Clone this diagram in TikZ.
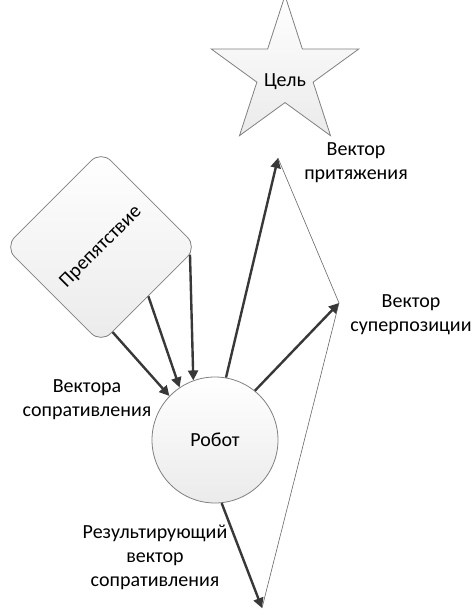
\documentclass[tikz,border=0pt]{standalone}
\usepackage{fontspec}
\setmainfont{Carlito}
\usetikzlibrary{shapes.geometric, arrows.meta, calc}

\tikzset{
	shape box/.style = {draw = black!50, line width = 0.8pt, top color = white, bottom color = black!8},
	vector/.style = {draw = black!78, line width = 2.4pt, -{Triangle[length = 10pt, width = 10pt]}},
	helper/.style = {draw = black!60, line width = 0.6pt},
	caption/.style = {align = center}
}

\begin{document}
\begin{tikzpicture}[x = 1pt, y = -1pt, font = \fontsize{20}{24}\selectfont]
		\useasboundingbox (0, 0) rectangle (472, 611) ;
		% Goal, obstacle, robot
		\node [shape box, star, star points = 5, star point ratio = 2.618, minimum size = 136pt, inner sep = 0pt, text height = 29pt, text depth = 3pt] (goal) at (285, 73) {Цель} ;
		\node [shape box, rectangle, rounded corners = 14pt, minimum size = 136pt, rotate = 45] (obst) at (101, 247) {Препятствие} ;
		\node [shape box, circle, minimum size = 126pt, inner sep = 0pt] (robot) at (215, 440) {Робот} ;
		% Vector ends
		\coordinate (att) at (278, 158) ;
		\coordinate (sup) at (339, 303) ;
		\coordinate (res) at (262, 608) ;
		% Parallelogram
		\draw [helper] (att) -- (sup) -- (res) ;
		% Vectors
		\draw [vector] ($(obst.south west)!0.12!(obst.south east)$) -- (robot.136) ;
		\draw [vector] ($(obst.south west)!0.49!(obst.south east)$) -- (robot.124) ;
		\draw [vector] ($(obst.south west)!0.92!(obst.south east)$) -- (robot.110) ;
		\draw [vector] (robot.80) -- (att) ;
		\draw [vector] (robot.51) -- (sup) ;
		\draw [vector] (robot.-84) -- (res) ;
		% Labels
		\node [caption] (attlabel) at (356, 163) {Вектор\\притяжения} ;
		\node [caption] (suplabel) at (411, 315) {Вектор\\суперпозиции} ;
		\node [caption] (obstlabel) at (87, 400) {Вектора\\сопративления} ;
		\node [caption] (reslabel) at (155, 557) {Результирующий\\вектор\\сопративления} ;
	\end{tikzpicture}
\end{document}
